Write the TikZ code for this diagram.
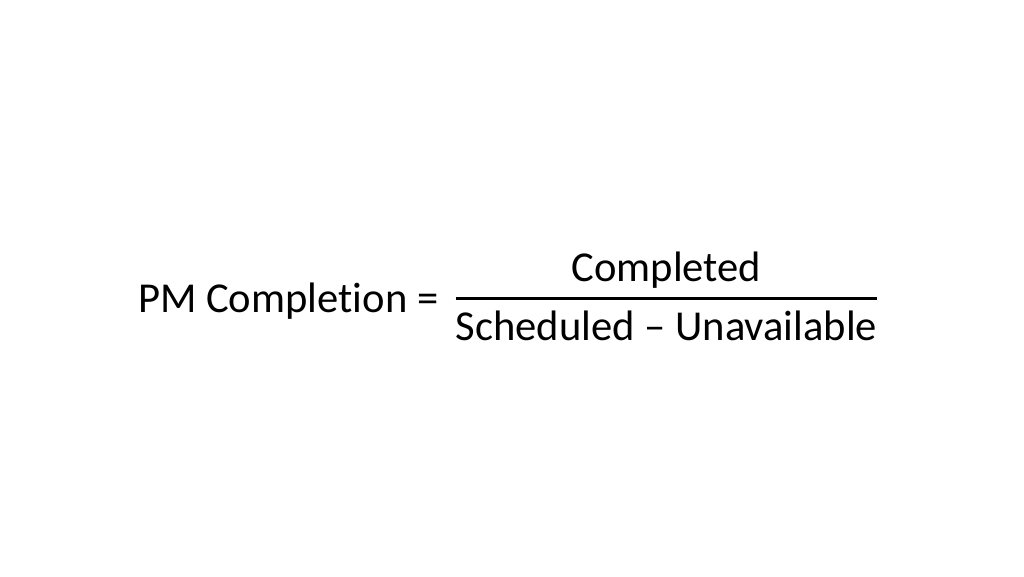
\documentclass[tikz,border=0pt]{standalone}
\usepackage{fontspec}
\setmainfont{Carlito}[Ligatures=NoCommon]
\usetikzlibrary{calc}
\begin{document}
\begin{tikzpicture}[x=1pt,y=1pt,txt/.style={inner sep=0pt,font=\fontsize{42.6}{50}\selectfont}]
\useasboundingbox (0,0) rectangle (1024,576);
\node[txt,anchor=base west] (lhs) at (138,263) {PM Completion =};
\node[txt,anchor=base] (den) at (666.5,236) {Scheduled -- Unavailable};
\node[txt,anchor=base] (num) at (666.5,294) {Completed};
\draw[line width=3pt] (den.west|-0,277)coordinate (L)--(den.east|-0,277)coordinate (R);
\end{tikzpicture}
\end{document}
